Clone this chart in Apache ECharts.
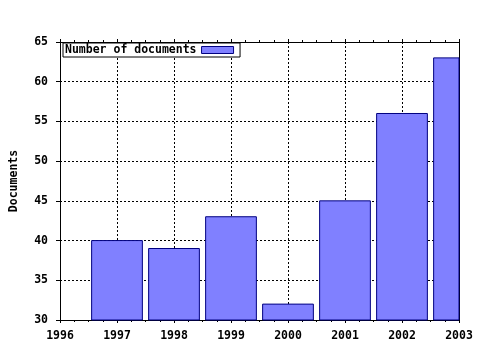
<!DOCTYPE html>
<html><head><meta charset="utf-8">
<script src="https://cdn.jsdelivr.net/npm/echarts@6/dist/echarts.min.js"></script>
<style>html,body{margin:0;padding:0;background:#fff}#c{width:480px;height:350px}</style>
</head><body><div id="c"></div>
<script>
const years = [1997, 1998, 1999, 2000, 2001, 2002, 2003];
const documents = [40, 39, 43, 32, 45, 56, 63];
const seriesName = 'Number of documents';
const yAxisName = 'Documents';

const font = '"DejaVu Sans Mono", monospace';
const BAR_FRAC = 0.89;
const Y_MIN = 30;
const chart = echarts.init(document.getElementById('c'), null, {renderer: 'canvas'});
const dotted = {show: true, lineStyle: {color: '#000', type: [2, 2], width: 1}};
function renderBar(params, api) {
  const x = api.value(0), y = api.value(1);
  const top = api.coord([x, y]);
  const base = api.coord([x, Y_MIN]);
  const w = api.size([BAR_FRAC, 0])[0];
  const cs = params.coordSys;
  const shape = echarts.graphic.clipRectByRect(
    {x: top[0] - w / 2, y: top[1], width: w, height: base[1] - top[1]},
    {x: cs.x, y: cs.y, width: cs.width, height: cs.height});
  if (!shape) return;
  return {type: 'rect', shape: shape,
    style: {fill: '#8080ff', stroke: '#000080', lineWidth: 1}};
}
chart.setOption({
  backgroundColor: '#fff',
  animation: false,
  grid: {left: 58, right: 21, top: 42, bottom: 30, show: false},
  legend: {
    show: true, left: 63, top: 43, align: 'right', orient: 'horizontal',
    backgroundColor: '#fff', borderColor: '#000', borderWidth: 1, borderRadius: 0,
    padding: [1, 6, 1, 2], itemWidth: 32, itemHeight: 7, itemGap: 0,
    textStyle: {fontFamily: font, fontWeight: 'bold', fontSize: 11.5, color: '#000'},
    data: [{name: seriesName, icon: 'rect',
      itemStyle: {color: '#8080ff', borderColor: '#000080', borderWidth: 1}}]
  },
  xAxis: [{
    type: 'value', min: 1996, max: 2003, interval: 1, position: 'bottom',
    axisLine: {show: true, onZero: false, lineStyle: {color: '#000', width: 1}},
    axisTick: {show: true, length: 3, lineStyle: {color: '#000'}},
    minorTick: {show: true, splitNumber: 4, length: 2, lineStyle: {color: '#000'}},
    axisLabel: {color: '#000', fontFamily: font, fontWeight: 'bold', fontSize: 11.5, margin: 10,
      formatter: v => String(v)},
    splitLine: dotted
  }, {
    type: 'value', min: 1996, max: 2003, interval: 1, position: 'top',
    axisLine: {show: true, onZero: false, lineStyle: {color: '#000', width: 1}},
    axisTick: {show: true, length: 3, lineStyle: {color: '#000'}},
    minorTick: {show: true, splitNumber: 4, length: 2, lineStyle: {color: '#000'}},
    axisLabel: {show: false}, splitLine: {show: false}
  }],
  yAxis: [{
    type: 'value', min: Y_MIN, max: 65, interval: 5, position: 'left',
    name: yAxisName, nameLocation: 'middle', nameGap: 40, nameRotate: 90,
    nameTextStyle: {color: '#000', fontFamily: font, fontWeight: 'bold', fontSize: 11.5},
    axisLine: {show: true, onZero: false, lineStyle: {color: '#000', width: 1}},
    axisTick: {show: true, length: 4, lineStyle: {color: '#000'}},
    axisLabel: {color: '#000', fontFamily: font, fontWeight: 'bold', fontSize: 11.5, margin: 12},
    splitLine: dotted
  }, {
    type: 'value', min: Y_MIN, max: 65, interval: 5, position: 'right',
    axisLine: {show: true, onZero: false, lineStyle: {color: '#000', width: 1}},
    axisTick: {show: false}, axisLabel: {show: false}, splitLine: {show: false}
  }],
  series: [{
    name: seriesName, type: 'custom', xAxisIndex: 0, yAxisIndex: 0,
    renderItem: renderBar,
    itemStyle: {color: '#8080ff', borderColor: '#000080', borderWidth: 1},
    encode: {x: 0, y: 1},
    data: years.map((y, i) => [y, documents[i]])
  }]
});
</script></body></html>
